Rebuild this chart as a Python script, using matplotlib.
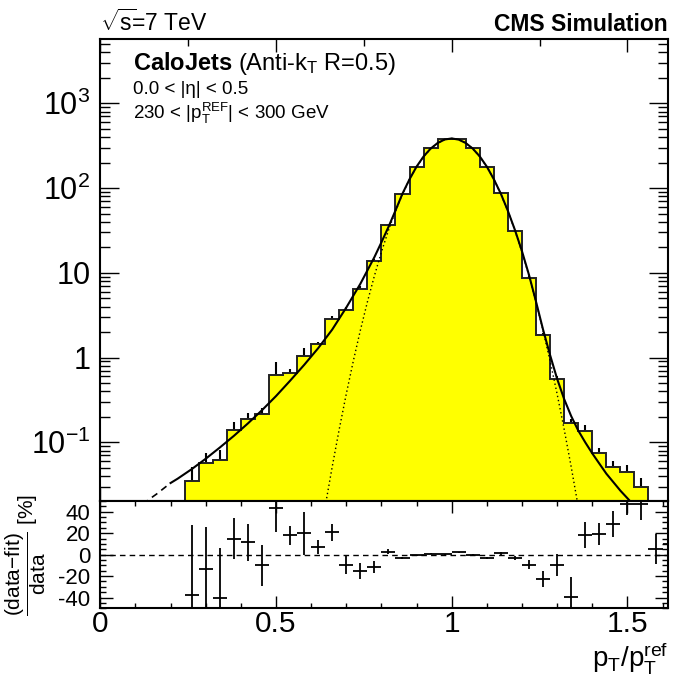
import numpy as np
import matplotlib
matplotlib.use("Agg")
import matplotlib.pyplot as plt
from matplotlib.ticker import (FixedLocator, FixedFormatter, LogLocator, MultipleLocator,
                               NullFormatter, FuncFormatter)

plt.rcParams['font.family'] = ['Liberation Sans', 'DejaVu Sans']
plt.rcParams['mathtext.fontset'] = 'custom'
plt.rcParams['mathtext.rm'] = 'Liberation Sans'
plt.rcParams['mathtext.it'] = 'Liberation Sans'
plt.rcParams['mathtext.bf'] = 'Liberation Sans:bold'
plt.rcParams['axes.unicode_minus'] = False

# histogram (bin centres, contents, stat. errors)
bin_centers = [0.26, 0.30, 0.34, 0.38, 0.42, 0.46, 0.50, 0.54, 0.58, 0.62, 0.66,
               0.70, 0.74, 0.78, 0.82, 0.86, 0.90, 0.94, 0.98, 1.02, 1.06, 1.10,
               1.14, 1.18, 1.22, 1.26, 1.30, 1.34, 1.38, 1.42, 1.46, 1.50, 1.54]
counts = [0.035, 0.0567, 0.062, 0.140, 0.189, 0.217, 0.63, 0.654, 1.03, 1.44, 2.85,
          3.69, 6.52, 13.8, 36.8, 84.7, 179, 296, 378, 378, 296, 175,
          88.5, 31.3, 8.79, 1.85, 0.556, 0.168, 0.136, 0.0757, 0.0509, 0.0452, 0.030]
count_err = [0.016, 0.019, 0.0195, 0.033, 0.035, 0.036, 0.25, 0.076, 0.26, 0.105, 0.25,
             0.31, 0.41, 0.66, 0.85, 0.85, 1.1, 1.5, 1.5, 1.5, 1.5, 1.4,
             1.05, 0.5, 0.4, 0.11, 0.053, 0.021, 0.022, 0.0096, 0.0095, 0.009, 0.0084]

# fit function, inside the fit range (solid)
fit_x = [0.20, 0.22, 0.26, 0.30, 0.34, 0.38, 0.42, 0.46, 0.50, 0.54, 0.58, 0.62,
         0.66, 0.70, 0.74, 0.78, 0.80, 0.82, 0.84, 0.86, 0.88, 0.90, 0.92, 0.94,
         0.96, 0.98, 1.00, 1.02, 1.04, 1.06, 1.08, 1.10, 1.12, 1.14, 1.16, 1.18,
         1.20, 1.22, 1.24, 1.26, 1.28, 1.30, 1.32, 1.34, 1.36, 1.38, 1.40, 1.42,
         1.44, 1.46, 1.48, 1.50, 1.52]
fit_y = [0.0331, 0.0372, 0.0482, 0.0640, 0.0867, 0.119, 0.167, 0.239, 0.351, 0.532,
         0.818, 1.29, 2.14, 3.89, 7.41, 15.3, 22.9, 34.7, 54.3, 86.1, 127, 179,
         236, 292, 340, 374, 385, 373, 340, 292, 236, 179, 127, 85.5, 53.7, 32.0,
         18.0, 9.44, 4.57, 2.14, 1.07, 0.562, 0.324, 0.204, 0.138, 0.100, 0.0741,
         0.0562, 0.0427, 0.0339, 0.0269, 0.0219, 0.0178]

# fit function outside the fit range (dashed)
ext_x = [0.12, 0.14, 0.16, 0.18, 0.20]
ext_y = [0.0186, 0.0214, 0.0245, 0.0285, 0.0331]

# gaussian core of the fit (dotted)
core_x = [0.64, 0.66, 0.68, 0.70, 0.72, 0.74, 0.76, 0.78, 0.80, 0.82, 0.84, 0.86,
          0.88, 0.90, 0.92, 0.94, 0.96, 0.98, 1.00, 1.02, 1.04, 1.06, 1.08, 1.10,
          1.12, 1.14, 1.16, 1.18, 1.20, 1.22, 1.24, 1.26, 1.28, 1.30, 1.32, 1.34, 1.36]
core_y = [0.0175, 0.0515, 0.143, 0.372, 0.910, 2.09, 4.52, 9.20, 17.6, 31.6, 53.3,
          84.7, 127, 178, 235, 291, 340, 373, 385, 373, 340, 291, 235, 178, 127,
          84.7, 53.3, 31.6, 17.6, 9.20, 4.52, 2.09, 0.910, 0.372, 0.143, 0.0515, 0.0175]

# residuals (data-fit)/data in %
res_x = bin_centers + [1.58, 1.62]
res_val = [-37.8, -13.2, -40.0, 14.8, 11.4, -10.1, 43.7, 17.9, 20.0, 7.1, 21.0,
           -9.2, -15.4, -11.4, 2.5, -3.1, -0.6, 0.9, 0.3, 2.2, 0.0, -3.1,
           1.2, -3.1, -9.2, -22.5, -9.8, -39.4, 18.5, 19.1, 28.3, 46.8, 46.8, 5.5, 9.8]
res_err = [65.5, 39.4, 46.2, 19.0, 17.0, 19.5, 23.0, 8.5, 20.0, 6.9, 8.0,
           9.2, 7.2, 5.3, 2.3, 1.0, 0.6, 0.5, 0.4, 0.4, 0.5, 0.8,
           1.2, 1.6, 4.6, 7.2, 10.5, 18.5, 12.3, 10.0, 12.0, 10.0, 14.5, 14.2, 12.0]

W, H = 680, 675
fig = plt.figure(figsize=(W / 100, H / 100), dpi=100)
left, right = 100.3 / W, 667.8 / W
ax = fig.add_axes([left, 1 - 501 / H, right - left, (501 - 39) / H])
ax2 = fig.add_axes([left, 1 - 608.3 / H, right - left, (608.3 - 501) / H])

# ---- top panel
cx = np.array(bin_centers)
cy = np.array(counts)
ce = np.array(count_err)
edges = np.append(cx - 0.02, cx[-1] + 0.02)
ax.vlines(cx, cy - ce, cy + ce, color='black', lw=1.5, zorder=1)
ax.stairs(cy, edges, fill=True, color='#ffff00', baseline=1e-4, zorder=2)
ax.stairs(cy, edges, baseline=1e-4, color='#222222', lw=1.4, zorder=3)
ax.plot(core_x, core_y, color='black', lw=1.0, ls=(0, (1, 2)), zorder=4)
ax.plot(ext_x, ext_y, color='black', lw=1.2, ls=(0, (4, 3)), zorder=5)
ax.plot(fit_x, fit_y, color='black', lw=1.5, zorder=5)

ax.set_yscale('log')
ax.set_xlim(0, 1.615)
ax.set_ylim(0.0203, 5740)
ax.yaxis.set_major_locator(FixedLocator([0.1, 1, 10, 100, 1000]))
ax.yaxis.set_major_formatter(FixedFormatter([r'$10^{-1}$', '1', '10', r'$10^{2}$', r'$10^{3}$']))
ax.yaxis.set_minor_locator(LogLocator(base=10, subs=np.arange(2, 10), numticks=20))
ax.yaxis.set_minor_formatter(NullFormatter())
ax.xaxis.set_major_locator(MultipleLocator(0.5))
ax.xaxis.set_minor_locator(MultipleLocator(0.25))
ax.tick_params(which='both', direction='in', top=True, right=True, labelbottom=False)
ax.tick_params(axis='y', which='major', length=13.5, width=1, labelsize=22, pad=7)
ax.tick_params(axis='y', which='minor', length=7, width=1)
ax.tick_params(axis='x', which='major', length=9.5, width=1)
ax.tick_params(axis='x', which='minor', length=5, width=1)
for s in ax.spines.values():
    s.set_linewidth(1.5)

# ---- ratio panel
ax2.axhline(0, color='black', lw=1, ls=(0, (4, 3)))
ax2.errorbar(res_x, res_val, yerr=res_err, xerr=0.02, fmt='none',
             ecolor='black', elinewidth=1.3, capsize=0)
ax2.set_xlim(0, 1.615)
ax2.set_ylim(-50, 50)
ax2.xaxis.set_major_locator(MultipleLocator(0.5))
ax2.xaxis.set_minor_locator(MultipleLocator(0.1))
ax2.yaxis.set_major_locator(MultipleLocator(20))
ax2.yaxis.set_minor_locator(MultipleLocator(5))
ax2.xaxis.set_major_formatter(FuncFormatter(lambda v, p: f'{v:g}'))
ax2.tick_params(which='both', direction='in', top=True, right=True)
ax2.tick_params(axis='x', which='major', length=8.5, width=1, labelsize=21.5, pad=1)
ax2.tick_params(axis='x', which='minor', length=3.6, width=1)
ax2.tick_params(axis='y', which='major', length=9.4, width=1, labelsize=16, pad=7)
ax2.tick_params(axis='y', which='minor', length=4.3, width=1)
for s in ax2.spines.values():
    s.set_linewidth(1.5)

# ---- texts
def px(x, y):
    return x / W, 1 - y / H

fig.text(*px(100, 31), r'$\sqrt{s}\!$=7 TeV', fontsize=16.5, ha='left', va='baseline')
fig.text(*px(668, 31), 'CMS Simulation', fontsize=16.5, fontweight='bold',
         ha='right', va='baseline')
fig.text(*px(133, 70), r'$\mathbf{CaloJets}$ (Anti-k$_\mathrm{T}$ R=0.5)', fontsize=17,
         ha='left', va='baseline')
fig.text(*px(133, 94), '0.0 < |η| < 0.5', fontsize=13.5, ha='left', va='baseline')
fig.text(*px(133, 119), r'230 < |p$_\mathrm{T}^\mathrm{REF}$| < 300 GeV', fontsize=13.5,
         ha='left', va='baseline')
fig.text(*px(668, 666), r'p$_\mathrm{T}$/p$_\mathrm{T}^\mathrm{ref}$', fontsize=20,
         ha='right', va='baseline')
fig.text(*px(26, 555), r'$\dfrac{(data{-}fit)}{data}$ [%]', fontsize=15, rotation=90,
         ha='center', va='center')

fig.savefig('out.png', dpi=100)
